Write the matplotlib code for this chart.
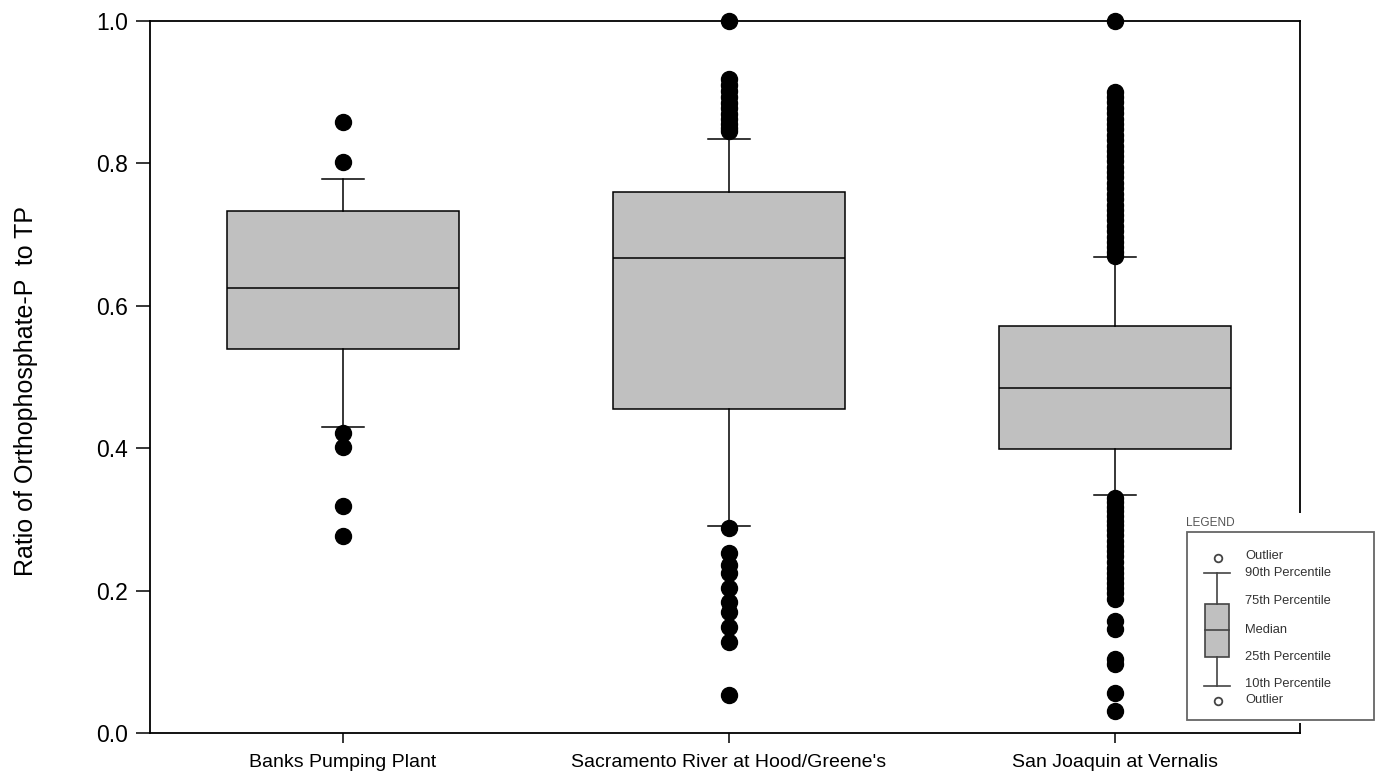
import matplotlib
matplotlib.use("Agg")
import matplotlib.pyplot as plt
from matplotlib.patches import Rectangle

plt.rcParams['font.family'] = ['Liberation Sans', 'DejaVu Sans']

sites = ["Banks Pumping Plant", "Sacramento River at Hood/Greene's", "San Joaquin at Vernalis"]
# box statistics (10th / 25th / 50th / 75th / 90th percentiles)
p10 = [0.430, 0.291, 0.334]
p25 = [0.540, 0.455, 0.399]
p50 = [0.625, 0.667, 0.485]
p75 = [0.733, 0.760, 0.572]
p90 = [0.778, 0.834, 0.668]

out_banks = [0.858, 0.802, 0.421, 0.402, 0.319, 0.276]
out_sac = [1.0, 0.918, 0.910, 0.902, 0.893, 0.885, 0.878, 0.870, 0.862, 0.856, 0.850, 0.846,
           0.288, 0.253, 0.236, 0.225, 0.204, 0.184, 0.170, 0.149, 0.128, 0.053]
out_sj = [1.0, 0.900, 0.893, 0.886, 0.878, 0.871, 0.862, 0.855, 0.848, 0.840, 0.833, 0.825,
          0.818, 0.810, 0.803, 0.795, 0.788, 0.781, 0.772, 0.765, 0.757, 0.750, 0.742,
          0.735, 0.727, 0.720, 0.712, 0.705, 0.697, 0.690, 0.682, 0.675, 0.670,
          0.330, 0.325, 0.318, 0.312, 0.305, 0.298, 0.292, 0.285, 0.278, 0.270, 0.262,
          0.255, 0.248, 0.240, 0.232, 0.225, 0.218, 0.210, 0.203, 0.196, 0.188,
          0.158, 0.146, 0.104, 0.097, 0.056, 0.031]
outliers = [out_banks, out_sac, out_sj]

stats = []
for i in range(len(sites)):
    stats.append(dict(label=sites[i], whislo=p10[i], q1=p25[i], med=p50[i],
                      q3=p75[i], whishi=p90[i], fliers=outliers[i]))

fig = plt.figure(figsize=(13.79, 7.83), dpi=100)
ax = fig.add_axes([150/1379, 50/783, 1150/1379, 712/783])

res = ax.bxp(stats, positions=[1, 2, 3], widths=0.6, capwidths=0.11, patch_artist=True,
             boxprops=dict(facecolor='#c0c0c0', edgecolor='black', linewidth=1.1),
             medianprops=dict(color='black', linewidth=1.1),
             whiskerprops=dict(color='black', linewidth=1.1),
             capprops=dict(color='black', linewidth=1.1),
             flierprops=dict(marker='o', markerfacecolor='black', markeredgecolor='black',
                             markersize=11.5, linestyle='none'))
for f in res['fliers']:
    f.set_clip_on(False)
    f.set_zorder(5)

ax.set_xlim(0.5, 3.48)
ax.set_ylim(0, 1.0)
ax.set_yticks([0.0, 0.2, 0.4, 0.6, 0.8, 1.0])
ax.set_yticklabels(['0.0', '0.2', '0.4', '0.6', '0.8', '1.0'], fontsize=16.5)
ax.set_xticks([1, 2, 3])
ax.set_xticklabels(sites, fontsize=14)
ax.tick_params(axis='y', direction='out', length=10, width=1.1, pad=6, right=False)
ax.tick_params(axis='x', direction='out', length=7, width=1.1, pad=8, top=False)
for s in ax.spines.values():
    s.set_linewidth(1.3)
ax.set_ylabel("Ratio of Orthophosphate-P  to TP", fontsize=18)
ax.yaxis.set_label_coords(-0.097, 0.48)

# legend panel (drawn as a small picture over the lower right corner)
lg = fig.add_axes([1180/1379, 60/783, 199/1379, 212/783])
lg.set_xlim(1180, 1379)
lg.set_ylim(723, 511)
lg.axis('off')
lg.add_patch(Rectangle((1180, 513), 199, 210, facecolor='white', edgecolor='none'))
lg.add_patch(Rectangle((1187, 532), 187, 188, facecolor='white', edgecolor='#666666', linewidth=1.3))
lg.text(1186, 523, "LEGEND", fontsize=8.5, color='#555555', va='center', ha='left')
gray = '#444444'
lg.plot([1218], [558], 'o', mfc='white', mec=gray, ms=5.5, mew=1.3)
lg.plot([1218], [701], 'o', mfc='white', mec=gray, ms=5.5, mew=1.3)
lg.plot([1204, 1230], [573, 573], color=gray, lw=1.2)
lg.plot([1204, 1230], [686, 686], color=gray, lw=1.2)
lg.plot([1217, 1217], [573, 604], color=gray, lw=1.2)
lg.plot([1217, 1217], [657, 686], color=gray, lw=1.2)
lg.add_patch(Rectangle((1205, 604), 24, 53, facecolor='#c0c0c0', edgecolor=gray, linewidth=1.2))
lg.plot([1205, 1229], [630, 630], color=gray, lw=1.2)
labels = [("Outlier", 556), ("90th Percentile", 573), ("75th Percentile", 601), ("Median", 630),
          ("25th Percentile", 657), ("10th Percentile", 684), ("Outlier", 700)]
for t, y in labels:
    lg.text(1245, y, t, fontsize=9.3, color='#333333', va='center', ha='left')

fig.savefig("out.png", dpi=100)
